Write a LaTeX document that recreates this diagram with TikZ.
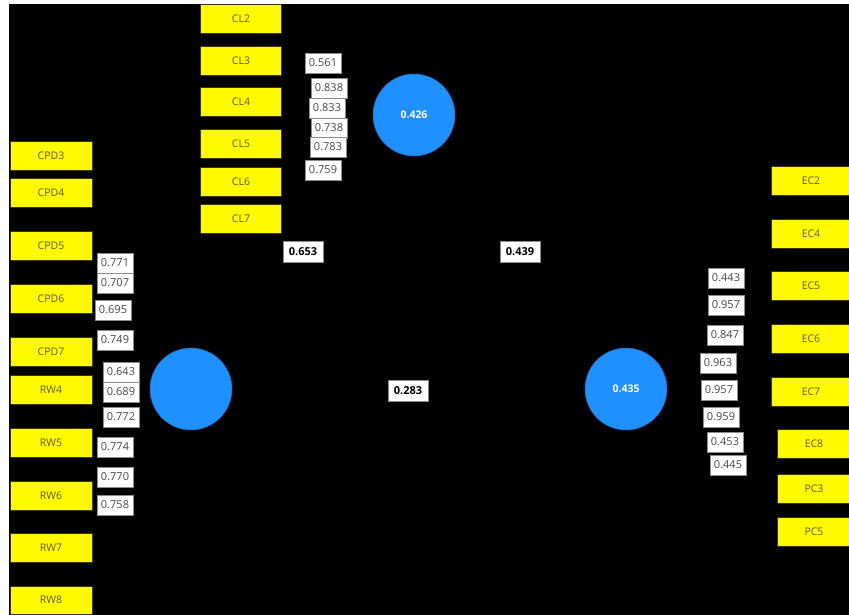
\documentclass[tikz,border=0pt]{standalone}
\usepackage{fontspec}
\setmainfont{Open Sans}
\definecolor{indyellow}{RGB}{255,250,0}
\definecolor{indtext}{RGB}{95,90,20}
\definecolor{lvblue}{RGB}{30,144,255}
\definecolor{lblborder}{RGB}{140,140,140}
\definecolor{lbltext}{RGB}{70,70,70}
\tikzset{
  ind/.style={rectangle, fill=indyellow, draw=indtext!60!black, line width=0.4pt,
    minimum width=81pt, minimum height=29pt, inner sep=0pt,
    text=indtext, font=\fontsize{10.5}{12}\selectfont},
  lv/.style={circle, fill=lvblue, draw=lvblue!70!black, line width=0.5pt,
    minimum size=82pt, inner sep=0pt, text=white,
    font=\fontsize{10.5}{12}\selectfont\bfseries},
  load/.style={rectangle, fill=white, draw=lblborder, line width=0.5pt,
    minimum width=36pt, minimum height=20pt, inner sep=1pt,
    text=lbltext, font=\fontsize{11}{12}\selectfont},
  coef/.style={rectangle, fill=white, draw=lblborder, line width=0.5pt,
    minimum width=40pt, minimum height=21pt, inner sep=1pt,
    text=black, font=\fontsize{11}{12}\selectfont\bfseries},
}
\begin{document}
\begin{tikzpicture}[x=1pt,y=1pt]
\useasboundingbox (0,0) rectangle (849,615);
\fill[white] (0,0) rectangle (849,615);
\fill[black] (9,0) rectangle (849,611);

% CL indicators
\node[ind] (cl2) at (241,596) {CL2};
\node[ind] (cl3) at (241,554.5) {CL3};
\node[ind] (cl4) at (241,513.5) {CL4};
\node[ind] (cl5) at (241,471.5) {CL5};
\node[ind] (cl6) at (241,433.5) {CL6};
\node[ind] (cl7) at (241,396.5) {CL7};

% CPD and RW indicators
\node[ind, minimum width=82pt] (cpd3) at (51,459) {CPD3};
\node[ind, minimum width=82pt] (cpd4) at (51,422) {CPD4};
\node[ind, minimum width=82pt] (cpd5) at (51,369.5) {CPD5};
\node[ind, minimum width=82pt] (cpd6) at (51,316.5) {CPD6};
\node[ind, minimum width=82pt] (cpd7) at (51,263.5) {CPD7};
\node[ind, minimum width=82pt] (rw4) at (51,225.5) {RW4};
\node[ind, minimum width=82pt] (rw5) at (51,172.5) {RW5};
\node[ind, minimum width=82pt] (rw6) at (51,119.5) {RW6};
\node[ind, minimum width=82pt] (rw7) at (51,67.5) {RW7};
\node[ind, minimum width=82pt, minimum height=28pt] (rw8) at (51,15) {RW8};

% EC and PC indicators
\node[ind, minimum width=80pt] (ec2) at (811,434) {EC2};
\node[ind, minimum width=80pt] (ec4) at (811,381.5) {EC4};
\node[ind, minimum width=80pt] (ec5) at (811,329) {EC5};
\node[ind, minimum width=80pt] (ec6) at (811,276.5) {EC6};
\node[ind, minimum width=80pt] (ec7) at (811,223.5) {EC7};
\node[ind, minimum width=74pt] (ec8) at (814,171) {EC8};
\node[ind, minimum width=74pt] (pc3) at (814,126.5) {PC3};
\node[ind, minimum width=74pt] (pc5) at (814,83.5) {PC5};

% latent variables
\node[lv] (cl) at (414,500) {0.426};
\node[lv] (cpd) at (191,226) {};
\node[lv] (ec) at (626,226) {0.435};

% outer loadings of CL
\node[load] (lcl3) at (323,552) {0.561};
\node[load] (lcl4) at (329,527) {0.838};
\node[load] (lcl5) at (327,507) {0.833};
\node[load] (lcl6) at (329,487) {0.738};
\node[load] (lcl7) at (328,468) {0.783};
\node[load] (lcl8) at (323,445) {0.759};

% outer loadings of CPD / RW
\node[load] (lcpd3) at (115,352) {0.771};
\node[load] (lcpd4) at (115,332) {0.707};
\node[load] (lcpd5) at (113,305) {0.695};
\node[load] (lcpd6) at (115,275) {0.749};
\node[load] (lcpd7) at (121,243) {0.643};
\node[load] (lrw4) at (121,223) {0.689};
\node[load] (lrw5) at (121,198) {0.772};
\node[load] (lrw6) at (115,168) {0.774};
\node[load] (lrw7) at (115,138) {0.770};
\node[load] (lrw8) at (115,110) {0.758};

% outer loadings of EC / PC
\node[load] (lec2) at (726,337) {0.443};
\node[load] (lec4) at (726,310) {0.957};
\node[load] (lec5) at (725,280) {0.847};
\node[load] (lec6) at (718,252) {0.963};
\node[load] (lec7) at (719,225) {0.957};
\node[load] (lec8) at (721,198) {0.959};
\node[load] (lpc3) at (725,173) {0.453};
\node[load] (lpc5) at (728,150) {0.445};

% path coefficients
\node[coef] (p1) at (303,363) {0.653};
\node[coef] (p2) at (520,363) {0.439};
\node[coef] (p3) at (408,224) {0.283};
\end{tikzpicture}
\end{document}
